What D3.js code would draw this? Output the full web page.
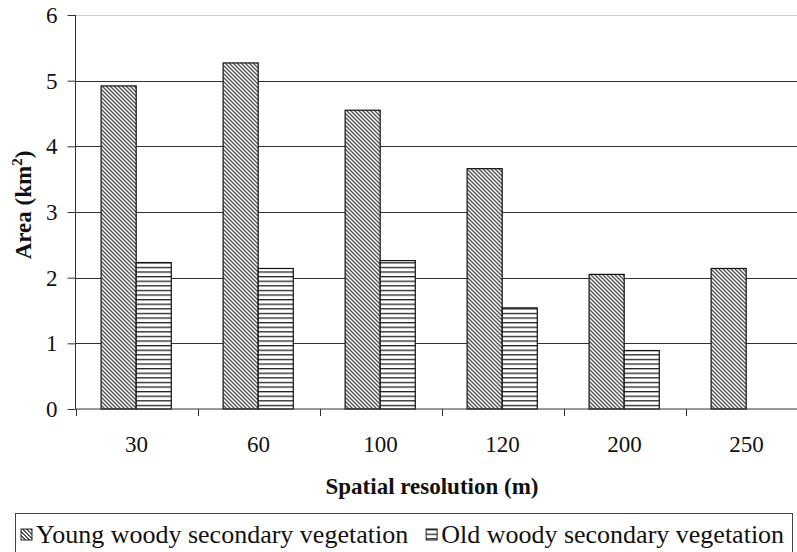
<!DOCTYPE html>
<html>
<head>
<meta charset="utf-8">
<script src="https://cdn.jsdelivr.net/npm/d3@7"></script>
<style>
  body { margin: 0; background: #fff; }
  svg text { font-family: "Liberation Serif", "Times New Roman", serif; fill: #111; }
</style>
</head>
<body>
<div id="chart"></div>
<script>
// data
const resolutions = ["30", "60", "100", "120", "200", "250"];
const seriesNames = ["Young woody secondary vegetation", "Old woody secondary vegetation"];
const youngArea = [4.92, 5.27, 4.55, 3.66, 2.05, 2.14];
const oldArea = [2.23, 2.14, 2.26, 1.54, 0.89, null];
const yTicks = [0, 1, 2, 3, 4, 5, 6];

const width = 797, height = 552;

const rows = resolutions.map((r, i) => ({ res: r, values: [youngArea[i], oldArea[i]] }));

const svg = d3.select("#chart")
  .append("svg")
  .attr("width", width)
  .attr("height", height);

const defs = svg.append("defs");

// fine diagonal hatch for young
const pYoung = defs.append("pattern")
  .attr("id", "pYoung")
  .attr("patternUnits", "userSpaceOnUse")
  .attr("width", 4).attr("height", 4);
pYoung.append("rect").attr("width", 4).attr("height", 4).attr("fill", "#fff");
[[0,0],[1,1],[2,2],[3,3],[1,0],[2,1],[3,2],[0,3]].forEach(([x, y]) =>
  pYoung.append("rect").attr("x", x).attr("y", y).attr("width", 1).attr("height", 1).attr("fill", "#555"));

// horizontal lines for old
const pOld = defs.append("pattern")
  .attr("id", "pOld")
  .attr("patternUnits", "userSpaceOnUse")
  .attr("width", 8).attr("height", 4.6);
pOld.append("rect").attr("width", 8).attr("height", 4.6).attr("fill", "#fff");
pOld.append("rect").attr("y", 0).attr("width", 8).attr("height", 1.3).attr("fill", "#222");

const fills = ["url(#pYoung)", "url(#pOld)"];

const x0 = d3.scaleBand().domain(resolutions).range([75.5, 807.5]);
const x1 = d3.scaleBand().domain([0, 1]).range([x0.bandwidth() * 0.21, x0.bandwidth() * 0.785]);
const y = d3.scaleLinear().domain([0, 6]).range([409, 15]);

// gridlines
svg.append("g")
  .selectAll("line")
  .data(yTicks.filter(d => d > 0))
  .join("line")
  .attr("x1", 75.5).attr("x2", width)
  .attr("y1", d => Math.round(y(d)) + 0.5)
  .attr("y2", d => Math.round(y(d)) + 0.5)
  .attr("stroke", d => d === 6 ? "#999" : "#333")
  .attr("stroke-dasharray", d => d === 6 ? "1,1" : null);

// bars
svg.append("g")
  .selectAll("g")
  .data(rows)
  .join("g")
  .attr("transform", d => `translate(${x0(d.res)},0)`)
  .selectAll("rect")
  .data(d => d.values.map((v, i) => ({ v, i })).filter(d => d.v != null))
  .join("rect")
  .attr("x", d => x1(d.i))
  .attr("width", x1.bandwidth())
  .attr("y", d => y(d.v))
  .attr("height", d => y(0) - y(d.v))
  .attr("fill", d => fills[d.i])
  .attr("stroke", "#111")
  .attr("stroke-width", 1.2);

// y axis
const yAxis = svg.append("g")
  .attr("transform", "translate(75.5,0)")
  .call(d3.axisLeft(y).tickValues(yTicks).tickSize(8).tickPadding(10).tickFormat(d3.format("d")));
yAxis.attr("font-size", 23);
yAxis.selectAll("line,path").attr("stroke", "#333");
yAxis.select(".domain").attr("d", `M0,${y(6)}V${y(0)}`);

// x axis, ticks sit on the band boundaries
const xAxis = svg.append("g").attr("transform", `translate(0,${y(0)})`);
xAxis.append("line").attr("x1", 75.5).attr("x2", width).attr("stroke", "#333");
xAxis.selectAll(".bnd")
  .data(resolutions)
  .join("line")
  .attr("class", "bnd")
  .attr("x1", d => Math.round(x0(d)) + 0.5)
  .attr("x2", d => Math.round(x0(d)) + 0.5)
  .attr("y1", 0).attr("y2", 7)
  .attr("stroke", "#333");
xAxis.selectAll("text")
  .data(resolutions)
  .join("text")
  .attr("x", d => x0(d) + x0.bandwidth() / 2)
  .attr("y", 43)
  .attr("text-anchor", "middle")
  .attr("font-size", 23)
  .text(d => d);

// axis titles
svg.append("text")
  .attr("x", 432).attr("y", 494)
  .attr("text-anchor", "middle")
  .attr("font-size", 23)
  .attr("font-weight", "bold")
  .text("Spatial resolution (m)");

const yTitle = svg.append("text")
  .attr("transform", "translate(31,205) rotate(-90)")
  .attr("text-anchor", "middle")
  .attr("font-size", 23)
  .attr("font-weight", "bold");
yTitle.append("tspan").text("Area (km");
yTitle.append("tspan").attr("dy", -9).attr("font-size", 15).text("2");
yTitle.append("tspan").attr("dy", 9).text(")");

// legend
const legend = svg.append("g");
legend.append("rect")
  .attr("x", 15.5).attr("y", 513.5)
  .attr("width", 777).attr("height", 50)
  .attr("fill", "#fff")
  .attr("stroke", "#444");

let lx = 21;
seriesNames.forEach((name, i) => {
  const g = legend.append("g").attr("transform", `translate(${lx},0)`);
  g.append("rect")
    .attr("y", 529).attr("width", 11).attr("height", 11)
    .attr("fill", fills[i])
    .attr("stroke", "#222");
  const t = g.append("text")
    .attr("x", 15).attr("y", 543)
    .attr("font-size", 26)
    .text(name);
  lx += 15 + t.node().getComputedTextLength() + 18;
});
</script>
</body>
</html>
